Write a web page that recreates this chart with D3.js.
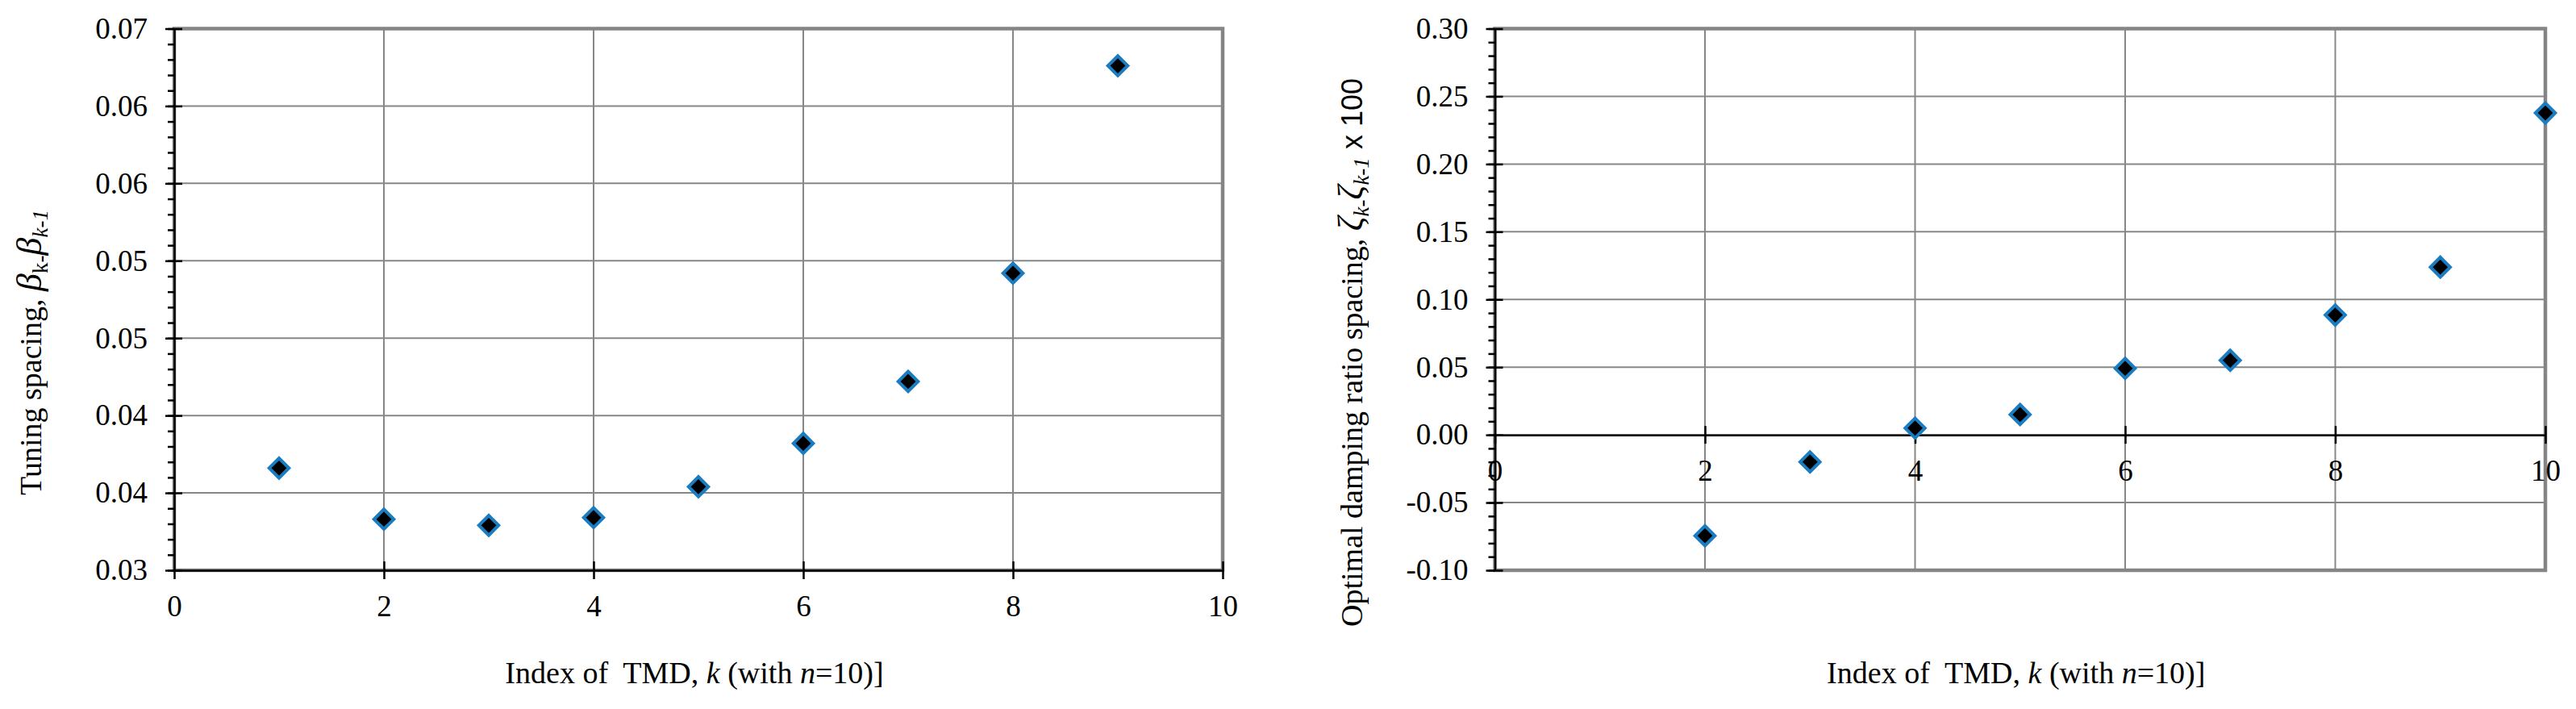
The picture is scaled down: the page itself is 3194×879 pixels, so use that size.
<!DOCTYPE html>
<html lang="en">

<head>
  <meta charset="UTF-8">
  <title>TMD spacing</title>
  <script src="https://d3js.org/d3.v7.min.js"></script>
  <style>
    * {
      padding: 0;
      margin: 0;
      box-sizing: border-box;
    }

    body {
      background: #fff;
    }

    svg {
      display: block;
    }
  </style>
</head>

<body>
  <div id="container"></div>
  <script>
    // data
    const xTicks = [0, 2, 4, 6, 8, 10];
    const xTickLabels = ["0", "2", "4", "6", "8", "10"];

    const kTuning = [1, 2, 3, 4, 5, 6, 7, 8, 9];
    const tuningSpacing = [0.0391, 0.0358, 0.0354, 0.0359, 0.0379, 0.0407, 0.0447, 0.0517, 0.0651];
    const yTicksTuning = [0.0325, 0.0375, 0.0425, 0.0475, 0.0525, 0.0575, 0.0625, 0.0675];
    const yTickLabelsTuning = ["0.03", "0.04", "0.04", "0.05", "0.05", "0.06", "0.06", "0.07"];

    const kDamping = [2, 3, 4, 5, 6, 7, 8, 9, 10];
    const dampingSpacing = [-0.0745, -0.0200, 0.0050, 0.0150, 0.0491, 0.0551, 0.0885, 0.1239, 0.2377];
    const yTicksDamping = [-0.10, -0.05, 0.00, 0.05, 0.10, 0.15, 0.20, 0.25, 0.30];
    const yTickLabelsDamping = ["-0.10", "-0.05", "0.00", "0.05", "0.10", "0.15", "0.20", "0.25", "0.30"];

    const width = 3194, height = 879;
    const serif = "'Liberation Serif', 'Times New Roman', serif";
    const gridColor = "#878787";
    const markerStroke = "#1b7dc1";

    const svg = d3.select("#container")
      .append("svg")
      .attr("width", width)
      .attr("height", height)
      .attr("font-family", serif)
      .attr("fill", "#000");

    svg.append("rect").attr("width", width).attr("height", height).attr("fill", "#fff");

    const drawPanel = ({ left, right, top, bottom, xs, ys, yDomain, yTicks, yLabels, minorStep, xAxisAt, titleX, title }) => {
      const x = d3.scaleLinear([0, 10], [left, right]);
      const y = d3.scaleLinear(yDomain, [bottom, top]);
      const g = svg.append("g");

      // grid
      g.append("g")
        .selectAll("line")
        .data(yTicks)
        .join("line")
        .attr("x1", left).attr("x2", right)
        .attr("y1", d => y(d)).attr("y2", d => y(d))
        .attr("stroke", gridColor).attr("stroke-width", 2);
      g.append("g")
        .selectAll("line")
        .data(xTicks.filter(d => d > 0 && d < 10))
        .join("line")
        .attr("x1", d => x(d)).attr("x2", d => x(d))
        .attr("y1", top).attr("y2", bottom)
        .attr("stroke", gridColor).attr("stroke-width", 2);

      // plot area border
      g.append("rect")
        .attr("x", left).attr("y", top)
        .attr("width", right - left).attr("height", bottom - top)
        .attr("fill", "none")
        .attr("stroke", "#858585")
        .attr("stroke-width", 4.5);

      // minor y ticks
      const minor = d3.range(yDomain[0], yDomain[1] + minorStep / 2, minorStep);
      g.append("g")
        .attr("transform", `translate(${left},0)`)
        .call(d3.axisLeft(y).tickValues(minor).tickSize(8).tickSizeOuter(0).tickFormat(""))
        .call(a => a.select(".domain").remove())
        .call(a => a.selectAll(".tick line").attr("stroke-width", 2.5));

      // y axis
      g.append("g")
        .attr("transform", `translate(${left},0)`)
        .call(d3.axisLeft(y).tickValues(yTicks).tickSize(11).tickSizeOuter(0).tickPadding(22)
          .tickFormat((d, i) => yLabels[i]))
        .call(a => a.select(".domain").attr("stroke-width", 2.5))
        .call(a => a.selectAll(".tick line").attr("x1", 10).attr("stroke-width", 2.5))
        .call(a => a.selectAll(".tick text").attr("font-size", 37).attr("font-family", serif));

      // x axis
      g.append("g")
        .attr("transform", `translate(0,${y(xAxisAt)})`)
        .call(d3.axisBottom(x).tickValues(xTicks).tickSize(11).tickSizeOuter(0).tickPadding(20)
          .tickFormat((d, i) => xTickLabels[i]))
        .call(a => a.select(".domain").attr("stroke-width", 2.5))
        .call(a => a.selectAll(".tick line").attr("y1", d => d === 0 ? 0 : -11).attr("stroke-width", 2.5))
        .call(a => a.selectAll(".tick text").attr("font-size", 37).attr("font-family", serif));

      // markers
      const diamond = d3.symbol(d3.symbolSquare, 300);
      g.append("g")
        .selectAll("path")
        .data(xs.map((k, i) => [k, ys[i]]))
        .join("path")
        .attr("transform", d => `translate(${x(d[0])},${y(d[1])}) rotate(45)`)
        .attr("d", diamond)
        .attr("fill", "#000")
        .attr("stroke", markerStroke)
        .attr("stroke-width", 4);

      // x title
      const xt = g.append("text")
        .attr("x", (left + right) / 2 - 5)
        .attr("y", 847)
        .attr("text-anchor", "middle")
        .attr("font-size", 38)
        .style("white-space", "pre");
      xt.append("tspan").text("Index of  TMD, ");
      xt.append("tspan").attr("font-style", "italic").text("k");
      xt.append("tspan").text(" (with ");
      xt.append("tspan").attr("font-style", "italic").text("n");
      xt.append("tspan").text("=10)]");

      // y title
      const yt = g.append("text")
        .attr("transform", `translate(${titleX},437) rotate(-90)`)
        .attr("text-anchor", "middle")
        .attr("font-size", 38)
        .style("white-space", "pre");
      title(yt);
    };

    const sub = (t, s, italic) => t.append("tspan")
      .attr("font-size", 27)
      .attr("dy", 8)
      .attr("font-style", italic ? "italic" : null)
      .text(s);
    const up = (t, s, extra = {}) => {
      const ts = t.append("tspan").attr("dy", -8).text(s);
      Object.entries(extra).forEach(([k, v]) => ts.attr(k, v));
      return ts;
    };

    drawPanel({
      left: 216, right: 1516, top: 35.5, bottom: 707,
      xs: kTuning, ys: tuningSpacing,
      yDomain: [0.0325, 0.0675], yTicks: yTicksTuning, yLabels: yTickLabelsTuning,
      minorStep: 0.001, xAxisAt: 0.0325, titleX: 51,
      title: t => {
        t.append("tspan").text("Tuning spacing, ");
        t.append("tspan").attr("font-style", "italic").attr("font-size", 44).text("β");
        sub(t, "k", false);
        t.append("tspan").attr("font-size", 27).text("-");
        up(t, "β", { "font-style": "italic", "font-size": 44 });
        sub(t, "k-1", true);
      }
    });

    drawPanel({
      left: 1853.5, right: 3156, top: 35.5, bottom: 707,
      xs: kDamping, ys: dampingSpacing,
      yDomain: [-0.10, 0.30], yTicks: yTicksDamping, yLabels: yTickLabelsDamping,
      minorStep: 0.01, xAxisAt: 0, titleX: 1689,
      title: t => {
        t.append("tspan").text("Optimal damping ratio spacing, ");
        t.append("tspan").attr("font-style", "italic").attr("font-size", 44).text("ζ");
        sub(t, "k", true);
        t.append("tspan").attr("font-size", 27).text("-");
        up(t, "ζ", { "font-style": "italic", "font-size": 44 });
        sub(t, "k-1", true);
        up(t, " x 100", { "font-family": "'Liberation Sans', Arial, sans-serif", "font-size": 36 });
      }
    });
  </script>
</body>

</html>
